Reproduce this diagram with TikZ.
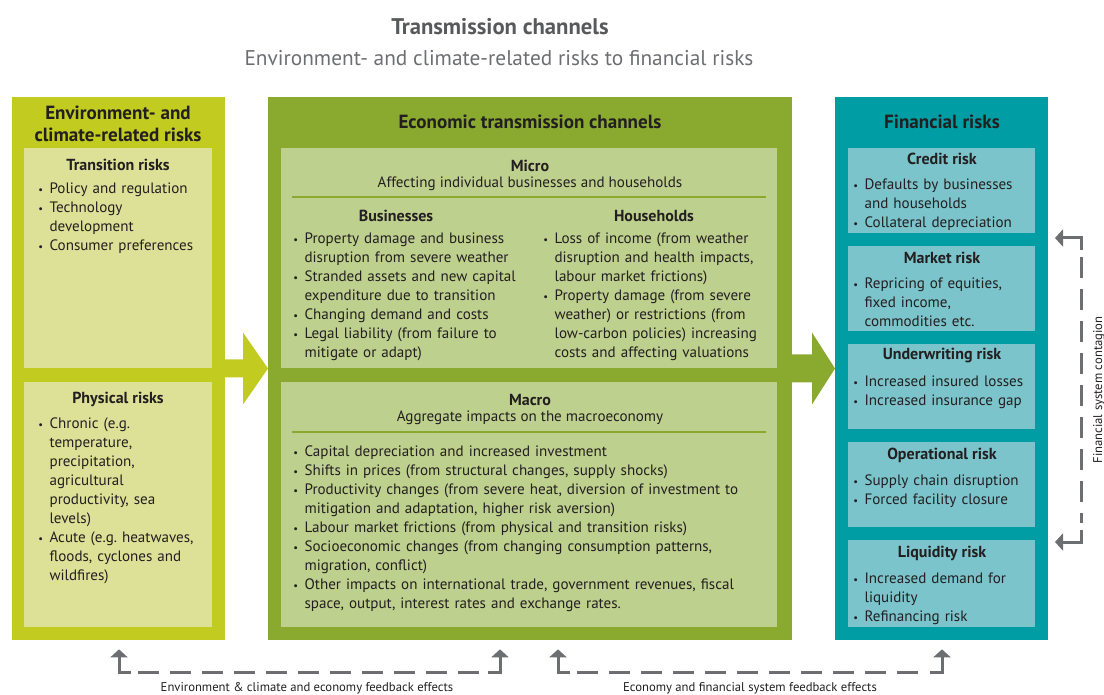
\documentclass[tikz,border=0pt]{standalone}
\usepackage{fontspec}
\setmainfont{PT Sans}
\usetikzlibrary{fit, arrows.meta}
\frenchspacing

\definecolor{envc}{HTML}{C2CB20}
\definecolor{envl}{HTML}{DDE197}
\definecolor{econc}{HTML}{8AAA2F}
\definecolor{econl}{HTML}{BED08E}
\definecolor{finc}{HTML}{009DA4}
\definecolor{finl}{HTML}{7BC4CB}
\definecolor{fbc}{HTML}{6D6E71}
\definecolor{ink}{HTML}{231F20}
\definecolor{titlec}{HTML}{58595B}

% bullet item with hanging indent
\newcommand{\itm}[1]{\par\hangindent=8.5pt\hangafter=1\noindent\makebox[8.5pt][l]{\scalebox{.7}{•}}#1\par}

\begin{document}
\begin{tikzpicture}[x=0.75pt, y=-0.75pt,
	box/.style={inner sep=0pt, outer sep=0pt},
	hd/.style={font=\bfseries\fontsize{12}{14}\selectfont, text=ink, inner sep=0pt},
	txt/.style={font=\fontsize{11.3}{14.25}\selectfont, text=ink, inner sep=0pt},
	lst/.style={txt, anchor=north west, text width=14cm, align=left},
	colhd/.style={font=\bfseries\fontsize{14.3}{16.5}\selectfont, text=ink, inner sep=0pt, align=center},
	lbl/.style={font=\fontsize{9.5}{11}\selectfont, text=ink, inner sep=0pt},
	fb/.style={draw=fbc, line width=2.25pt},
	fbd/.style={fb, dash pattern=on 16pt off 8pt},
	tip/.style={-{Triangle[width=12.75pt,length=6pt]}},
	rule/.style={draw=econc, line width=0.8pt}]
	\useasboundingbox (0,0) rectangle (1104,695);
	%Title
		\node[font=\bfseries\fontsize{17}{20}\selectfont, text=titlec, inner sep=0pt] (title) at (500,27) {Transmission channels};
		\node[font=\fontsize{16}{19}\selectfont, text=fbc, inner sep=0pt] (subtitle) at (499,58) {Environment- and climate-related risks to financial risks};
	%Environment- and climate-related risks
		\node[box, fill=envc, fit={(12,97) (225,640)}] (env) {};
		\node[colhd] (envhd) at (118,124) {Environment- and\\climate-related risks};
		\node[box, fill=envl, fit={(24,148) (212,368)}] (trans) {};
		\node[hd] (transhd) at (118,165) {Transition risks};
		\node[lst] (translst) at (38,174) {\itm{Policy and regulation}\itm{Technology\newline development}\itm{Consumer preferences}};
		\node[box, fill=envl, fit={(24,382) (212,627)}] (phys) {};
		\node[hd] (physhd) at (118,399) {Physical risks};
		\node[lst] (physlst) at (38,409) {\itm{Chronic (e.g.\newline temperature,\newline precipitation,\newline agricultural\newline productivity, sea\newline levels)}\itm{Acute (e.g. heatwaves,\newline floods, cyclones and\newline wildfires)}};
	%Economic transmission channels
		\node[box, fill=econc, fit={(268,97) (792,640)}] (econ) {};
		\node[colhd] (econhd) at (530,122) {Economic transmission channels};
		\node[box, fill=econl, fit={(281,148) (777,368)}] (micro) {};
		\node[hd] (microhd) at (530,166) {Micro};
		\node[txt] (microsub) at (530,184) {Affecting individual businesses and households};
		\draw[rule] (292,197) -- (766,197);
		\node[hd] (bushd) at (396,216) {Businesses};
		\node[hd] (houshd) at (654,216) {Households};
		\node[lst] (buslst) at (293,224) {\itm{Property damage and business\newline disruption from severe weather}\itm{Stranded assets and new capital\newline expenditure due to transition}\itm{Changing demand and costs}\itm{Legal liability (from failure to\newline mitigate or adapt)}};
		\node[lst] (houslst) at (543,224) {\itm{Loss of income (from weather\newline disruption and health impacts,\newline labour market frictions)}\itm{Property damage (from severe\newline weather) or restrictions (from\newline low-carbon policies) increasing\newline costs and affecting valuations}};
		\node[box, fill=econl, fit={(281,382) (777,627)}] (macro) {};
		\node[hd] (macrohd) at (530,400) {Macro};
		\node[txt] (macrosub) at (530,418) {Aggregate impacts on the macroeconomy};
		\draw[rule] (292,432) -- (766,432);
		\node[lst] (macrolst) at (293,437) {\itm{Capital depreciation and increased investment}\itm{Shifts in prices (from structural changes, supply shocks)}\itm{Productivity changes (from severe heat, diversion of investment to\newline mitigation and adaptation, higher risk aversion)}\itm{Labour market frictions (from physical and transition risks)}\itm{Socioeconomic changes (from changing consumption patterns,\newline migration, conflict)}\itm{Other impacts on international trade, government revenues, fiscal\newline space, output, interest rates and exchange rates.}};
	%Financial risks
		\node[box, fill=finc, fit={(835,97) (1048,640)}] (fin) {};
		\node[colhd] (finhd) at (942,122) {Financial risks};
		\node[box, fill=finl, fit={(848,148) (1035,233)}] (credit) {};
		\node[hd] (credithd) at (942,159) {Credit risk};
		\node[lst] (creditlst) at (853,170) {\itm{Defaults by businesses\newline and households}\itm{Collateral depreciation}};
		\node[box, fill=finl, fit={(848,246) (1035,331)}] (market) {};
		\node[hd] (markethd) at (942,258) {Market risk};
		\node[lst] (marketlst) at (853,269) {\itm{Repricing of equities,\newline fixed income,\newline commodities etc.}};
		\node[box, fill=finl, fit={(848,344) (1035,429)}] (uw) {};
		\node[hd] (uwhd) at (942,356) {Underwriting risk};
		\node[lst] (uwlst) at (853,367) {\itm{Increased insured losses}\itm{Increased insurance gap}};
		\node[box, fill=finl, fit={(848,442) (1035,527)}] (oper) {};
		\node[hd] (operhd) at (942,455) {Operational risk};
		\node[lst] (operlst) at (853,466) {\itm{Supply chain disruption}\itm{Forced facility closure}};
		\node[box, fill=finl, fit={(848,540) (1035,627)}] (liq) {};
		\node[hd] (liqhd) at (942,553) {Liquidity risk};
		\node[lst] (liqlst) at (853,564) {\itm{Increased demand for\newline liquidity}\itm{Refinancing risk}};
	%Block arrows
		\fill[envc] (env.east) ++(0,-9) -- ++(18,0) -- ++(0,-27) -- (econ.west) -- ++(-25,36) -- ++(0,-27) -- ++(-18,0) -- cycle;
		\fill[econc] (econ.east) ++(0,-14) -- ++(20,0) -- ++(0,-22) -- (fin.west) -- ++(-23,36) -- ++(0,-22) -- ++(-20,0) -- cycle;
	%Feedback effects
		\coordinate (fa1) at (119,672);
		\coordinate (fa2) at (500,672);
		\coordinate (fb1) at (558,672);
		\coordinate (fb2) at (942,672);
		\draw[fb, tip] ([xshift=9pt]fa1) -- (fa1) -- ([yshift=17pt]fa1);
		\draw[fbd] ([xshift=14pt]fa1) -- ([xshift=-14pt]fa2);
		\draw[fb, tip] ([xshift=-9pt]fa2) -- (fa2) -- ([yshift=17pt]fa2);
		\draw[fb, tip] ([xshift=9pt]fb1) -- (fb1) -- ([yshift=17pt]fb1);
		\draw[fbd] ([xshift=14pt]fb1) -- ([xshift=-14pt]fb2);
		\draw[fb, tip] ([xshift=-9pt]fb2) -- (fb2) -- ([yshift=17pt]fb2);
		\node[lbl] (fblbl1) at (307,688) {Environment \& climate and economy feedback effects};
		\node[lbl] (fblbl2) at (750,688) {Economy and financial system feedback effects};
	%Contagion
		\coordinate (ct1) at (1081,238);
		\coordinate (ct2) at (1081,542);
		\draw[fb, tip] ([yshift=-9pt]ct1) -- (ct1) -- ([xshift=-19.5pt]ct1);
		\draw[fbd] ([yshift=-14pt]ct1) -- ([yshift=14pt]ct2);
		\draw[fb, tip] ([yshift=9pt]ct2) -- (ct2) -- ([xshift=-19.5pt]ct2);
		\node[lbl, rotate=90] (ctlbl) at (1099,390) {Financial system contagion};
\end{tikzpicture}
\end{document}
